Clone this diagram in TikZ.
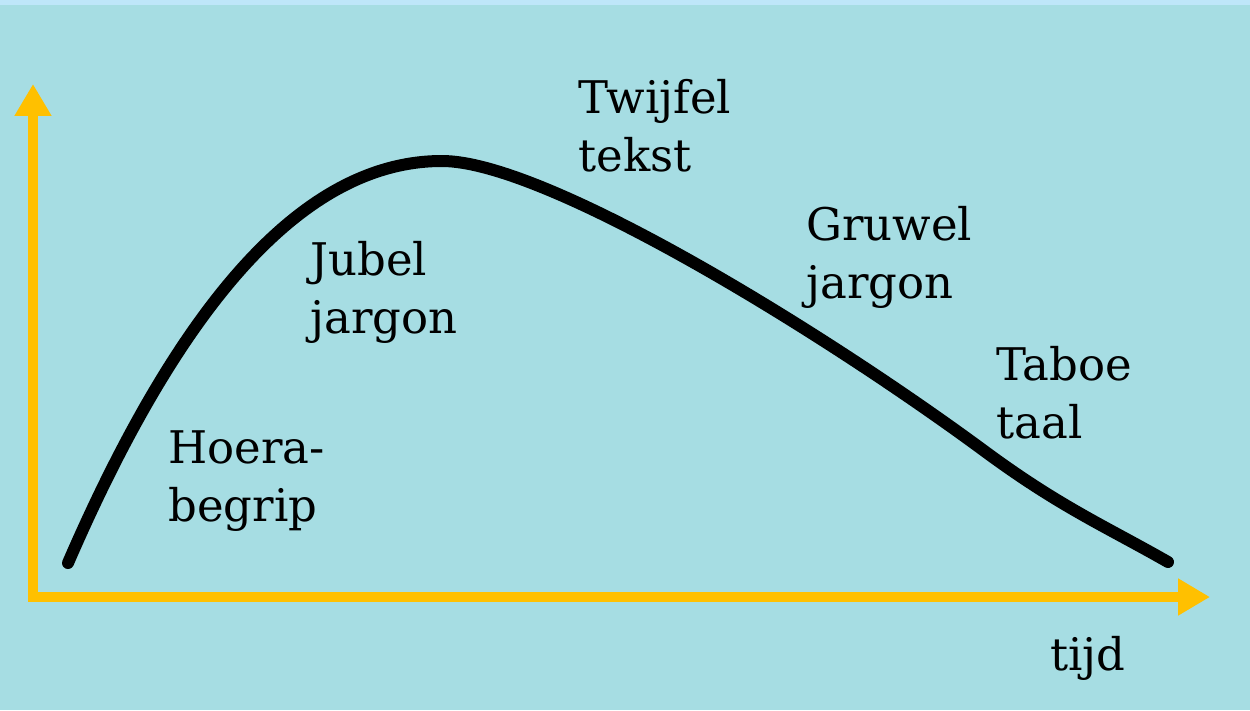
\documentclass[tikz,border=0pt]{standalone}
\usepackage{fontspec}
\setmainfont{DejaVu Serif}
\usepackage{xcolor}
\usetikzlibrary{arrows.meta,positioning,calc}

\definecolor{bgteal}{HTML}{A6DDE3}
\definecolor{topstrip}{HTML}{BEE6F9}
\definecolor{axisyellow}{HTML}{FFC000}

\begin{document}
\begin{tikzpicture}[
  x=0.02cm, y=-0.02cm,
  axis/.style={draw=axisyellow, line width=0.2cm, line join=miter,
               {Triangle[width=0.7cm,length=0.64cm]}-{Triangle[width=0.7cm,length=0.64cm]}},
  curve/.style={draw=black, line width=0.24cm, line cap=round},
  lbl/.style={anchor=base west, align=left, inner sep=0pt,
              font=\fontsize{25.6}{33}\selectfont, text=black}
]
  % background
  \fill[bgteal] (0,0) rectangle (1250,710);
  \fill[topstrip] (0,0) rectangle (1250,5);
  \useasboundingbox (0,0) rectangle (1250,710);

  \coordinate (origin) at (33,597);
  \coordinate (ytip) at (33,84);
  \coordinate (xtip) at (1210,597);
  \draw[axis] (ytip) -- (origin) -- (xtip);

  % the curve: rise, peak, long fall
  \coordinate (start) at (68,563);
  \coordinate (peak) at (442,161);
  \coordinate (bend) at (983,450);
  \coordinate (stop) at (1168,562);
  \draw[curve] (start) .. controls (182,300) and (305,161) .. (peak)
                       .. controls (545,161) and (820,330) .. (bend)
                       .. controls (1060,507) and (1105,526) .. (stop);

  % labels (anchor = baseline of last line)
  \node[lbl] (hoera) at (168,521) {Hoera-\\begrip};
  \node[lbl] (jubel) at (310,333) {Jubel\\jargon};
  \node[lbl] (twijfel) at (578,171) {Twijfel\\tekst};
  \node[lbl] (gruwel) at (806,298) {Gruwel\\jargon};
  \node[lbl] (taboe) at (996,438) {Taboe\\taal};
  \node[lbl] (tijd) at (1050,670) {tijd};
\end{tikzpicture}
\end{document}
